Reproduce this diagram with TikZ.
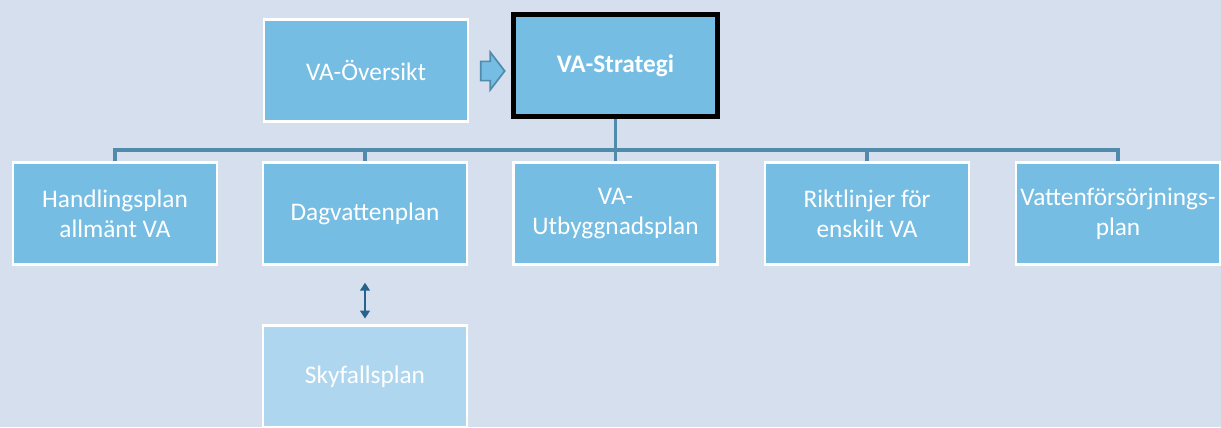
\documentclass[tikz,border=0pt]{standalone}
\usepackage{fontspec}
\setmainfont{Carlito}
\usetikzlibrary{arrows.meta}
\usetikzlibrary{shapes.arrows}
\usetikzlibrary{positioning}
\definecolor{bgcolour}{RGB}{214,223,238}
\definecolor{boxcolour}{RGB}{117,189,227}
\definecolor{palecolour}{RGB}{174,214,238}
\definecolor{linecolour}{RGB}{80,139,172}
\definecolor{tipcolour}{RGB}{38,98,138}
\newcommand\planfont{\fontsize{18}{21.5}\selectfont}
\tikzstyle{planbox}  = [rectangle, draw=white, line width=2pt, fill=boxcolour, text=white,
  minimum width=5.1cm, minimum height=2.55cm, align=center, inner sep=2pt, font=\planfont]
\tikzstyle{mainbox}  = [planbox, draw=black, line width=3.5pt]
\tikzstyle{palebox}  = [planbox, fill=palecolour]
\tikzstyle{tree}     = [draw=linecolour, line width=2.4pt]
\tikzstyle{link}     = [draw=tipcolour, line width=0.8pt, {Triangle[width=7pt,length=5.5pt]}-{Triangle[width=7pt,length=5.5pt]}]
\tikzstyle{blockarrow} = [single arrow, draw=linecolour, fill=boxcolour, line width=1.2pt,
  minimum height=0.6cm, minimum width=0.9cm, inner xsep=0pt, inner ysep=0.22cm,
  single arrow head extend=0.23cm, single arrow tip angle=105]

\begin{document}
\begin{tikzpicture}[x=0.025cm, y=-0.025cm]
  \fill[bgcolour] (0,0) rectangle (1221,427);
  \useasboundingbox (0,0) rectangle (1221,427);
  \clip (0,0) rectangle (1221,427);
  \draw (366,70.5) node[planbox] (oversikt) {VA-Översikt};
  \draw (615.5,65.5) node[mainbox] (strategi) {\textbf{VA-Strategi}};
  \draw (489,71) node[blockarrow] (pil) {};
  \draw (115,213.5) node[planbox] (handling) {Handlingsplan\\allmänt VA};
  \draw (365,213.5) node[planbox] (dagvatten) {Dagvattenplan};
  \draw (615.5,213.5) node[planbox] (utbyggnad) {VA-\\Utbyggnadsplan};
  \draw (867,213.5) node[planbox] (riktlinjer) {Riktlinjer för\\enskilt VA};
  \draw (1118,213.5) node[planbox] (vatten) {Vattenförsörjnings-\\plan};
  \draw (365,376.5) node[palebox] (skyfall) {Skyfallsplan};
  \coordinate (bus) at (615.5,150);
  \draw[tree] (strategi.south) -- (bus);
  \foreach \plan in {handling, dagvatten, utbyggnad, riktlinjer, vatten}
    \draw[tree] (bus) -| (\plan.north);
  \draw[link, shorten <=12pt, shorten >=4pt] (dagvatten.south) -- (skyfall.north);
\end{tikzpicture}
\end{document}
